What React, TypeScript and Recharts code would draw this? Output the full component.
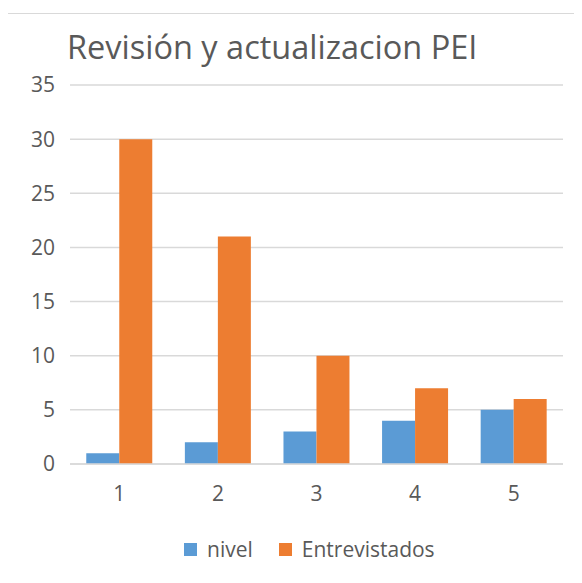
import { Bar, BarChart, CartesianGrid, XAxis, YAxis } from "recharts";

const categories = ["1", "2", "3", "4", "5"];
const nivel = [1, 2, 3, 4, 5];
const entrevistados = [30, 21, 10, 7, 6];
const yTicks = [0, 5, 10, 15, 20, 25, 30, 35];

const BLUE = "#5B9BD5";
const ORANGE = "#ED7D31";
const TEXT = "#595959";
const FONT = "'Open Sans', 'Noto Sans', sans-serif";

const data = categories.map((c, i) => ({
  cat: c,
  nivel: nivel[i],
  Entrevistados: entrevistados[i],
}));

const legendItems = [
  { name: "nivel", color: BLUE },
  { name: "Entrevistados", color: ORANGE },
];

export default function App() {
  return (
    <div style={{ position: "relative", margin: -8, width: 582, height: 583, background: "#fff", overflow: "hidden" }}>
      <div
        style={{
          position: "absolute",
          left: 5,
          top: 13,
          width: 590,
          height: 600,
          border: "1px solid #d9d9d9",
        }}
      />
      <div
        style={{
          position: "absolute",
          left: 67,
          top: 31,
          fontFamily: FONT,
          fontSize: 32.5,
          lineHeight: "32px",
          color: TEXT,
          whiteSpace: "nowrap",
        }}
      >
        Revisión y actualizacion PEI
      </div>
      <div style={{ position: "absolute", left: 0, top: 0 }}>
        <BarChart
          width={582}
          height={583}
          data={data}
          margin={{ top: 85, right: 19, bottom: 0, left: 0 }}
          barCategoryGap="16.5%"
          barGap={0}
          style={{ fontFamily: FONT }}
        >
          <CartesianGrid stroke="#d9d9d9" strokeWidth={1.5} vertical={false} />
          <XAxis
            dataKey="cat"
            height={119}
            tickLine={false}
            axisLine={{ stroke: "#d9d9d9", strokeWidth: 1.5 }}
            tickSize={0}
            tickMargin={22}
            tick={{ fill: TEXT, fontSize: 21 }}
          />
          <YAxis
            width={70}
            domain={[0, 35]}
            ticks={yTicks}
            interval={0}
            tickLine={false}
            axisLine={false}
            tickSize={0}
            tickMargin={15}
            tick={{ fill: TEXT, fontSize: 21 }}
          />
          <Bar dataKey="nivel" fill={BLUE} isAnimationActive={false} />
          <Bar dataKey="Entrevistados" fill={ORANGE} isAnimationActive={false} />
        </BarChart>
      </div>
      <div
        style={{
          position: "absolute",
          left: 184,
          top: 535,
          display: "flex",
          gap: 26,
          fontFamily: FONT,
          fontSize: 21,
          lineHeight: "28px",
          color: TEXT,
          whiteSpace: "nowrap",
        }}
      >
        {legendItems.map((it) => (
          <div key={it.name} style={{ display: "flex", alignItems: "center" }}>
            <span style={{ width: 13, height: 13, background: it.color, display: "inline-block", marginRight: 10 }} />
            <span>{it.name}</span>
          </div>
        ))}
      </div>
    </div>
  );
}
